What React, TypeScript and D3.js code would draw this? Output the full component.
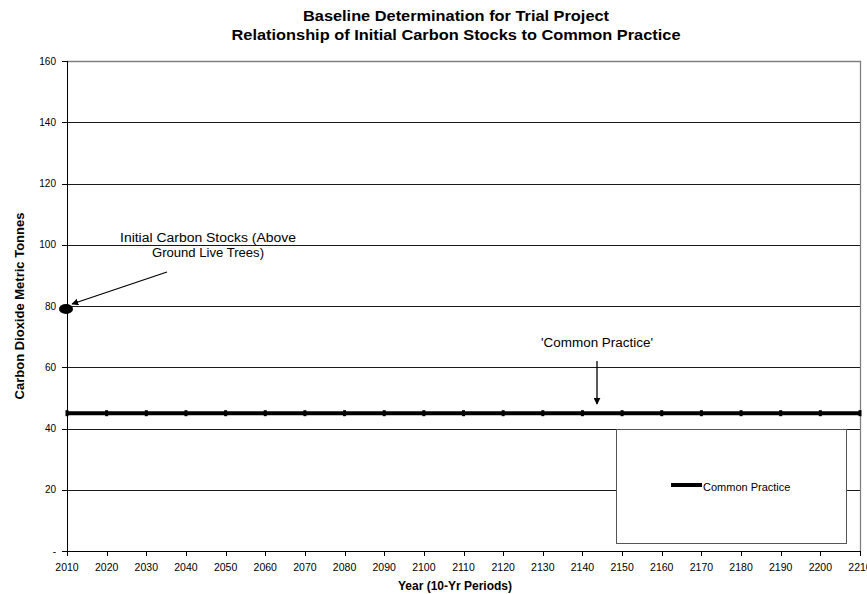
import React from "react";
import * as d3 from "d3";

const years: number[] = d3.range(2010, 2211, 10);
const commonPractice: number[] = years.map(() => 45);
const initialStock = { year: 2010, value: 79 };
const yTicks: number[] = [0, 20, 40, 60, 80, 100, 120, 140, 160];
const titleLines: string[] = [
  "Baseline Determination for Trial Project",
  "Relationship of Initial Carbon Stocks to Common Practice",
];

const W = 867;
const H = 594;
const M = { left: 67, right: 7, top: 61, bottom: 43 };
const FONT = "'Liberation Sans', Arial, sans-serif";

export default function App() {
  const x = d3.scaleLinear().domain([2010, 2210]).range([M.left, W - M.right]);
  const y = d3.scaleLinear().domain([0, 160]).range([H - M.bottom, M.top]);
  const line = d3
    .line<number>()
    .x((_, i) => x(years[i]))
    .y((d) => y(d));

  const px0 = x(2010);
  const px1 = x(2210);
  const py0 = y(0);
  const py1 = y(160);

  return (
    <svg
      width={W}
      height={H}
      style={{ position: "absolute", left: 0, top: 0, background: "#fff" }}
      fontFamily={FONT}
    >
      <defs>
        <marker id="ah" viewBox="0 0 10 10" refX="9" refY="5" markerWidth="7" markerHeight="7" orient="auto-start-reverse" markerUnits="userSpaceOnUse">
          <path d="M0,0 L10,5 L0,10 z" fill="#000" />
        </marker>
      </defs>
      {/* titles */}
      {titleLines.map((t, i) => (
        <text
          key={t}
          x={456}
          y={21 + i * 19}
          textAnchor="middle"
          fontSize={14}
          fontWeight="bold"
          textLength={i === 0 ? 306 : 449}
          lengthAdjust="spacingAndGlyphs"
        >
          {t}
        </text>
      ))}
      {/* gridlines */}
      {yTicks.slice(1, -1).map((v) => (
        <line key={v} x1={px0} x2={px1} y1={Math.round(y(v)) + 0.5} y2={Math.round(y(v)) + 0.5} stroke="#1a1a1a" strokeWidth={1} />
      ))}
      {/* plot border */}
      <path
        d={`M${px0},${Math.round(py1) + 0.5} H${Math.round(px1) + 0.5} V${py0}`}
        fill="none"
        stroke="#808080"
        strokeWidth={1.3}
      />
      {/* y axis */}
      <line x1={px0 + 0.5} x2={px0 + 0.5} y1={py1} y2={py0} stroke="#000" />
      {yTicks.map((v) => (
        <g key={v}>
          <line x1={px0 - 5} x2={px0} y1={Math.round(y(v)) + 0.5} y2={Math.round(y(v)) + 0.5} stroke="#000" />
          <text x={px0 - 11} y={y(v) + 3.5} textAnchor="end" fontSize={10}>
            {v === 0 ? "-" : v}
          </text>
        </g>
      ))}
      {/* x axis */}
      <line x1={px0} x2={px1} y1={Math.round(py0) + 0.5} y2={Math.round(py0) + 0.5} stroke="#000" />
      {years.map((yr) => (
        <g key={yr}>
          <line x1={Math.round(x(yr)) + 0.5} x2={Math.round(x(yr)) + 0.5} y1={py0} y2={py0 + 5} stroke="#000" />
          <text x={x(yr)} y={py0 + 20} textAnchor="middle" fontSize={10.5}>
            {yr}
          </text>
        </g>
      ))}
      {/* axis titles */}
      <text x={455} y={H - 4} textAnchor="middle" fontSize={12} fontWeight="bold">
        Year (10-Yr Periods)
      </text>
      <text
        transform={`translate(24,${(py0 + py1) / 2}) rotate(-90)`}
        textAnchor="middle"
        fontSize={13}
        fontWeight="bold"
      >
        Carbon Dioxide Metric Tonnes
      </text>
      {/* common practice series */}
      <path d={line(commonPractice) || ""} fill="none" stroke="#000" strokeWidth={4} />
      {commonPractice.map((v, i) => (
        <rect key={i} x={x(years[i]) - 1.5} y={y(v) - 3} width={3} height={6} fill="#000" />
      ))}
      {/* initial carbon stocks */}
      <ellipse cx={x(initialStock.year) - 1} cy={y(initialStock.value)} rx={7} ry={5} fill="#000" />
      {/* annotations */}
      <text x={208} y={242} textAnchor="middle" fontSize={12.5} textLength={176} lengthAdjust="spacingAndGlyphs">
        Initial Carbon Stocks (Above
      </text>
      <text x={208} y={257} textAnchor="middle" fontSize={12.5} textLength={112} lengthAdjust="spacingAndGlyphs">
        Ground Live Trees)
      </text>
      <line x1={167} y1={272} x2={72} y2={304} stroke="#000" strokeWidth={1.3} markerEnd="url(#ah)" />
      <text x={597} y={347} textAnchor="middle" fontSize={12.5} textLength={112} lengthAdjust="spacingAndGlyphs">
        'Common Practice'
      </text>
      <line x1={597} y1={361} x2={597} y2={404} stroke="#000" strokeWidth={1.3} markerEnd="url(#ah)" />
      {/* legend */}
      <rect x={616.5} y={429.5} width={230} height={114} fill="#fff" stroke="#555" strokeWidth={1} />
      <line x1={671} x2={702} y1={485} y2={485} stroke="#000" strokeWidth={4} />
      <text x={703} y={491} fontSize={11}>
        Common Practice
      </text>
    </svg>
  );
}
